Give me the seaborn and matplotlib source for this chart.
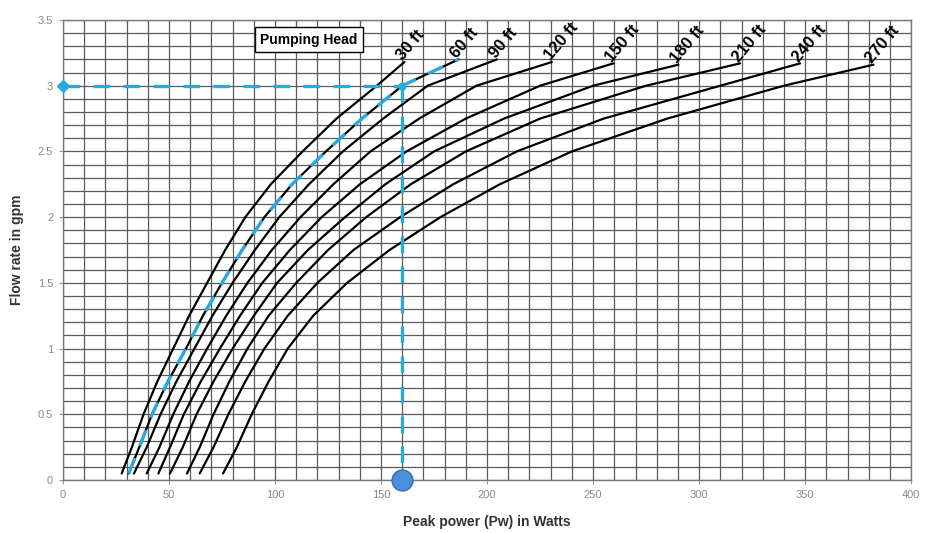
import matplotlib
matplotlib.use("Agg")
import numpy as np
import pandas as pd
import matplotlib.pyplot as plt
import seaborn as sns
from matplotlib.ticker import MultipleLocator, FuncFormatter

# pumping head curves: flow (gpm) levels and the peak power (W) read at each level
heads = ["30 ft", "60 ft", "90 ft", "120 ft", "150 ft", "180 ft", "210 ft", "240 ft", "270 ft"]
flow_levels = [0.05, 0.25, 0.5, 0.75, 1.0, 1.25, 1.5, 1.75, 2.0, 2.25, 2.5, 2.75, 3.0]
power_30 = [27.7, 32.5, 38, 44.5, 52, 59.5, 68, 76.5, 86, 98, 113, 129, 148]
power_60 = [31, 36, 42, 49.5, 58, 66, 75, 84.5, 95, 108, 124, 141, 160]
power_90 = [33.5, 39.5, 46, 53.5, 62, 70.5, 80, 90.5, 102, 116, 132, 151, 172]
power_120 = [39.5, 45.5, 52, 59.5, 68, 77, 87, 98.5, 112, 127.5, 145, 168, 195]
power_150 = [45, 50.5, 57, 65, 74, 83.5, 94, 107, 122, 140, 162, 190, 225]
power_180 = [50.5, 56.5, 63, 71, 80, 90, 101, 115.5, 133, 152, 175, 208, 250]
power_210 = [58.5, 64.5, 71, 78.5, 87, 97, 110, 125, 143, 164, 190, 225, 275]
power_240 = [64.5, 71, 78, 86, 95, 106, 120, 137, 159, 184, 214, 255, 310]
power_270 = [75.5, 82, 89, 97, 106, 118, 134, 154, 178, 206, 240, 285, 340]
# end of each curve (where its label sits)
end_power = [161, 186.5, 204.6, 230.5, 259.6, 290.2, 319.3, 347.6, 382.2]
end_flow = [3.18, 3.2, 3.2, 3.18, 3.17, 3.16, 3.17, 3.17, 3.16]

# example reading
sel_power = 160
sel_flow = 3.0

all_power = [power_30, power_60, power_90, power_120, power_150,
             power_180, power_210, power_240, power_270]

rows = []
for h, pw, ep, ef in zip(heads, all_power, end_power, end_flow):
    for p, f in zip(pw + [ep], flow_levels + [ef]):
        rows.append({"head": h, "power": p, "flow": f})
df = pd.DataFrame(rows)

sns.set_style("white")
plt.rcParams["font.family"] = ["Liberation Sans", "DejaVu Sans"]

fig = plt.figure(figsize=(9.26, 5.33), dpi=100)
ax = fig.add_axes([0.068, 0.0994, 0.916, 0.8631])

sns.lineplot(data=df, x="power", y="flow", hue="head", units="head",
             estimator=None, sort=False, palette=["black"] * len(heads),
             lw=1.6, legend=False, ax=ax, zorder=3)

# blue dashed highlight over the 60 ft curve
c60 = df[df["head"] == "60 ft"]
ax.plot(c60["power"], c60["flow"], color="#2aa8e0", lw=2.4, ls=(0, (5, 4)), zorder=4)

# reading lines
ax.plot([0, sel_power], [sel_flow, sel_flow], color="#2aa8e0", lw=2.4, ls=(0, (5, 4)), zorder=4)
ax.plot([sel_power, sel_power], [sel_flow, 0], color="#2aa8e0", lw=2.4, ls=(0, (5, 4)), zorder=4)
ax.plot([0], [sel_flow], marker="D", color="#2aa8e0", ms=6, clip_on=False, zorder=5)
ax.plot([sel_power], [sel_flow], marker="o", color="#2aa8e0", ms=5, zorder=5)
ax.plot([sel_power], [0], marker="o", color="#4a8fdc", mec="#2f6db5", ms=15,
        clip_on=False, zorder=6)

# curve labels
for h, ep, ef in zip(heads, end_power, end_flow):
    ax.text(ep + 0.5, ef - 0.01, h, rotation=50, rotation_mode="anchor", ha="left", va="bottom",
            fontsize=12, fontweight="bold", color="black", zorder=5)

ax.text(93, 3.35, "Pumping Head", fontsize=10, fontweight="bold", va="center", ha="left",
        color="black", zorder=5,
        bbox=dict(boxstyle="square,pad=0.4", fc="white", ec="black", lw=1))

ax.set_xlim(0, 400)
ax.set_ylim(0, 3.5)
ax.xaxis.set_major_locator(MultipleLocator(50))
ax.xaxis.set_minor_locator(MultipleLocator(10))
ax.yaxis.set_major_locator(MultipleLocator(0.5))
ax.yaxis.set_minor_locator(MultipleLocator(0.1))
ax.yaxis.set_major_formatter(FuncFormatter(lambda v, p: f"{v:g}"))
ax.grid(which="both", color="#5a5a5a", lw=0.9, zorder=0)
ax.set_axisbelow(True)
for s in ax.spines.values():
    s.set_color("#777777")
    s.set_linewidth(1)
ax.tick_params(which="major", length=3, color="#999999", labelsize=8,
               labelcolor="#8a8a8a", direction="out", left=True, bottom=True, pad=4)
ax.tick_params(which="minor", length=0)

ax.set_xlabel("Peak power (Pw) in Watts", fontsize=10, fontweight="bold", color="#333333", labelpad=11)
ax.set_ylabel("Flow rate in gpm", fontsize=10, fontweight="bold", color="#333333", labelpad=10)

fig.savefig("out.png", dpi=100)
